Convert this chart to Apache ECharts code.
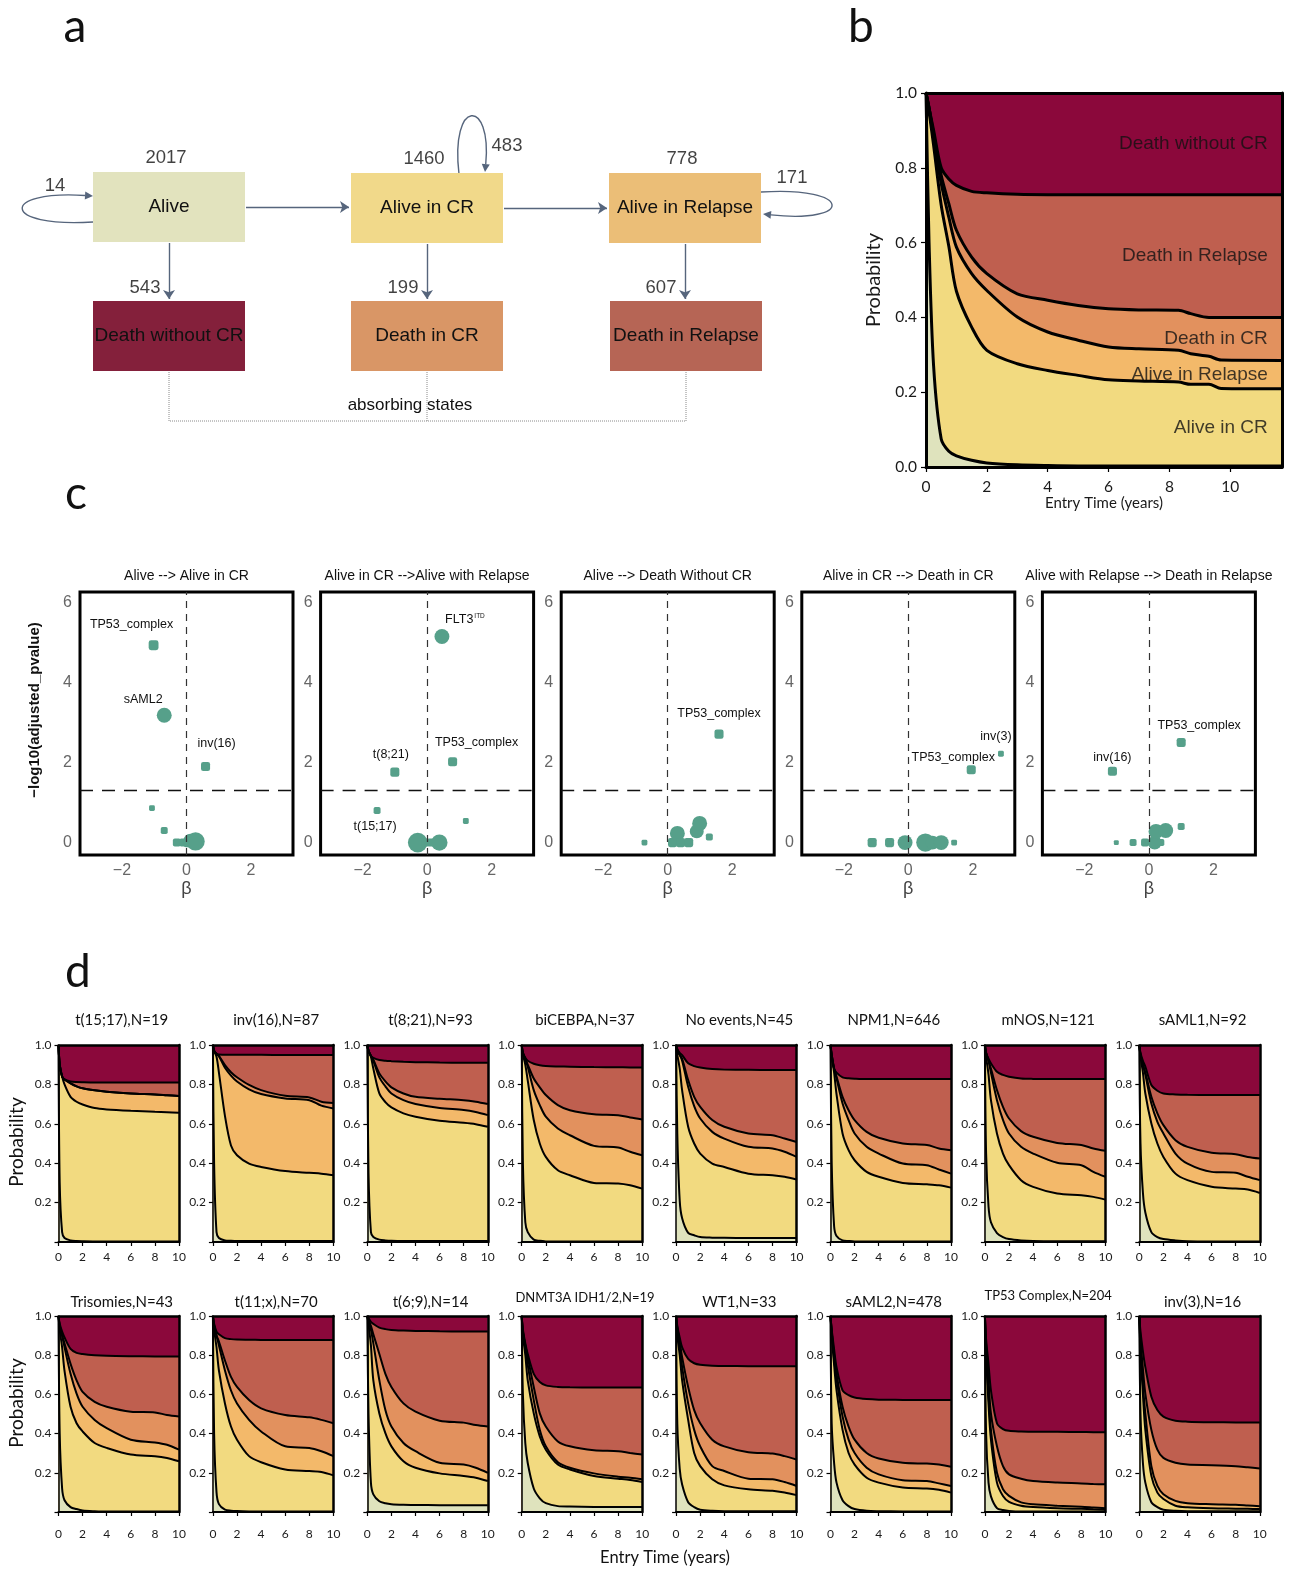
<!DOCTYPE html>
<html>
<head>
<meta charset="utf-8">
<title>Multistate model of AML outcomes</title>
<script src="https://cdn.jsdelivr.net/npm/echarts@6.0.0/dist/echarts.min.js"></script>
<style>
  html, body { margin: 0; padding: 0; background: #fff; }
  #chart { width: 1302px; height: 1572px; }
</style>
</head>
<body>
<div id="chart"></div>
<script>
// ---------------- data ----------------
// panel a: states and transition counts
const states = ['Alive', 'Alive in CR', 'Alive in Relapse', 'Death without CR', 'Death in CR', 'Death in Relapse'];
const stateN = [2017, 1460, 778];
const transitions = [
  ['Alive', 'Alive in CR', null],
  ['Alive in CR', 'Alive in Relapse', null],
  ['Alive', 'Death without CR', 543],
  ['Alive in CR', 'Death in CR', 199],
  ['Alive in Relapse', 'Death in Relapse', 607]
];
const selfLoops = [['Alive', 14], ['Alive in CR', 483], ['Alive in Relapse', 171]];

// panel b: cumulative state probabilities, whole cohort
const tB = [0, 0.1, 0.25, 0.5, 0.75, 1, 1.5, 2, 3, 4, 5, 6, 7, 8.3, 8.7, 9.3, 9.7, 11.7];
const bCumAlive    = [1, .60, .27, .075, .042, .03, .018, .011, .006, .004, .003, .003, .003, .003, .003, .003, .003, .003];
const bCumCR       = [1, .95, .86, .70, .59, .47, .374, .312, .276, .258, .245, .233, .23, .227, .221, .221, .21, .209];
const bCumRelapse  = [1, .96, .88, .758, .668, .588, .517, .472, .401, .361, .339, .321, .316, .312, .303, .296, .286, .285];
const bCumDeathCR  = [1, .96, .89, .78, .704, .633, .561, .517, .463, .446, .432, .423, .42, .419, .41, .40, .40, .40];
const bCumDeathRel = [1, .96, .90, .80, .77, .753, .737, .733, .729, .728, .728, .728, .728, .728, .728, .728, .728, .728];
const bLayerNames = ['Death without CR', 'Death in Relapse', 'Death in CR', 'Alive in Relapse', 'Alive in CR'];

// panel c: [beta, -log10(adj p), n, shape, label]
const cTitles = ['Alive --> Alive in CR', 'Alive in CR -->Alive with Relapse', 'Alive --> Death Without CR',
  'Alive in CR --> Death in CR', 'Alive with Relapse --> Death in Relapse'];
const cAliveToCR = [
  [-1.02, 4.93, 20, 's', 'TP53_complex'], [-0.69, 3.18, 46, 'c', 'sAML2'], [0.59, 1.9, 17, 's', 'inv(16)'],
  [-1.07, 0.86, 7, 's', ''], [-0.69, 0.3, 10, 's', ''], [-0.3, 0, 13, 's', ''], [-0.1, 0, 13, 's', ''],
  [0.05, 0, 17, 's', ''], [0.12, 0.05, 40, 'c', ''], [0.28, 0.03, 70, 'c', '']
];
const cCRToRelapse = [
  [0.46, 5.15, 46, 'c', 'FLT3'], [0.79, 2.02, 17, 's', 'TP53_complex'], [-1.0, 1.76, 17, 's', 't(8;21)'],
  [-1.55, 0.8, 10, 's', 't(15;17)'], [1.2, 0.54, 7, 's', ''], [-0.29, 0, 80, 'c', ''], [-0.05, 0, 13, 's', ''],
  [0.12, 0, 13, 's', ''], [0.38, 0, 55, 'c', '']
];
const cAliveToDeath = [
  [1.59, 2.71, 17, 's', 'TP53_complex'], [-0.72, 0, 7, 's', ''], [0.15, 0, 17, 's', ''], [0.3, 0.23, 46, 'c', ''],
  [0.4, 0, 17, 's', ''], [0.65, 0, 17, 's', ''], [0.9, 0.28, 40, 'c', ''], [0.99, 0.48, 46, 'c', ''], [1.29, 0.14, 10, 's', '']
];
const cCRToDeath = [
  [2.87, 2.22, 7, 's', 'inv(3)'], [1.95, 1.82, 17, 's', 'TP53_complex'], [-1.12, 0, 17, 's', ''], [-0.58, 0, 17, 's', ''],
  [-0.1, 0, 46, 'c', ''], [0.53, 0, 70, 'c', ''], [0.75, 0, 40, 'c', ''], [1.02, 0, 46, 'c', ''], [1.42, 0, 7, 's', '']
];
const cRelapseToDeath = [
  [1.0, 2.5, 17, 's', 'TP53_complex'], [-1.13, 1.78, 17, 's', 'inv(16)'], [-1.01, 0, 5, 's', ''], [-0.49, 0, 10, 's', ''],
  [-0.12, 0, 13, 's', ''], [0.18, 0, 40, 'c', ''], [0.22, 0.28, 46, 'c', ''], [0.52, 0.3, 46, 'c', ''],
  [0.37, 0, 10, 's', ''], [1.0, 0.4, 10, 's', '']
];
const cPanels = [cAliveToCR, cCRToRelapse, cAliveToDeath, cCRToDeath, cRelapseToDeath];
const sigLevel = -Math.log10(0.05);

// panel d: cumulative state probabilities per genomic group
const tD = [0, 0.1, 0.3, 0.5, 1, 1.5, 2, 3, 4, 6, 8, 9, 10];
const dGroups = ['t(15;17)', 'inv(16)', 't(8;21)', 'biCEBPA', 'No events', 'NPM1', 'mNOS', 'sAML1',
  'Trisomies', 't(11;x)', 't(6;9)', 'DNMT3A IDH1/2', 'WT1', 'sAML2', 'TP53 Complex', 'inv(3)'];
const dN = [19, 87, 93, 37, 45, 646, 121, 92, 43, 70, 14, 19, 33, 478, 204, 16];
const dCumAlive = [
  [1, .30, .05, .02, .008, .005, .004, .003, .003, .003, .003, .003, .003],
  [1, .40, .05, .02, .008, .006, .005, .005, .005, .005, .005, .005, .005],
  [1, .35, .05, .025, .012, .008, .006, .005, .005, .005, .005, .005, .005],
  [1, .40, .10, .05, .012, .006, .003, .002, .002, .002, .002, .002, .002],
  [1, .55, .21, .12, .046, .034, .025, .022, .021, .02, .02, .02, .02],
  [1, .40, .08, .03, .008, .005, .003, .003, .003, .003, .003, .003, .003],
  [1, .45, .18, .10, .045, .025, .015, .008, .005, .004, .004, .004, .004],
  [1, .50, .25, .15, .05, .025, .015, .008, .004, .003, .003, .003, .003],
  [1, .40, .12, .06, .025, .015, .008, .004, .002, .002, .002, .002, .002],
  [1, .40, .10, .04, .012, .007, .005, .003, .002, .002, .002, .002, .002],
  [1, .50, .15, .09, .055, .045, .04, .037, .036, .035, .034, .034, .034],
  [1, .60, .35, .25, .12, .07, .045, .03, .028, .026, .025, .025, .025],
  [1, .45, .22, .14, .05, .025, .012, .006, .004, .004, .004, .004, .004],
  [1, .45, .25, .15, .06, .03, .015, .006, .004, .003, .003, .003, .003],
  [1, .40, .15, .08, .02, .01, .005, .002, .002, .002, .002, .002, .002],
  [1, .50, .25, .15, .05, .025, .012, .006, .004, .004, .004, .004, .004]
];
const dCumCR = [
  [1, .90, .84, .80, .737, .712, .698, .68, .673, .666, .661, .659, .656],
  [1, .97, .94, .86, .64, .49, .44, .398, .381, .36, .351, .347, .339],
  [1, .97, .94, .88, .754, .71, .683, .653, .636, .615, .605, .598, .585],
  [1, .95, .90, .82, .619, .50, .432, .364, .339, .30, .297, .288, .271],
  [1, .95, .88, .77, .585, .50, .449, .398, .381, .347, .339, .331, .317],
  [1, .94, .86, .75, .551, .466, .415, .356, .331, .30, .293, .288, .276],
  [1, .94, .85, .72, .551, .449, .39, .314, .28, .246, .237, .229, .215],
  [1, .94, .86, .754, .602, .50, .432, .347, .314, .28, .271, .266, .249],
  [1, .93, .84, .72, .537, .453, .411, .352, .327, .293, .285, .276, .259],
  [1, .93, .84, .722, .554, .436, .369, .285, .254, .217, .209, .204, .187],
  [1, .96, .85, .672, .503, .402, .335, .259, .226, .197, .184, .175, .158],
  [1, .90, .80, .672, .503, .386, .318, .242, .217, .184, .17, .163, .153],
  [1, .90, .80, .672, .47, .301, .234, .167, .136, .116, .108, .099, .086],
  [1, .90, .75, .621, .419, .301, .242, .175, .15, .125, .12, .113, .099],
  [1, .80, .55, .369, .15, .082, .052, .032, .025, .019, .016, .014, .012],
  [1, .82, .60, .419, .184, .099, .066, .032, .024, .019, .017, .016, .015]
];
const dCumRelapse = [
  [1, .90, .84, .825, .805, .79, .78, .77, .763, .754, .749, .745, .741],
  [1, .97, .955, .943, .885, .845, .815, .775, .751, .729, .72, .692, .678],
  [1, .97, .945, .92, .836, .79, .754, .72, .70, .68, .67, .66, .644],
  [1, .96, .925, .89, .771, .695, .636, .576, .542, .488, .48, .458, .44],
  [1, .97, .95, .92, .788, .69, .627, .559, .525, .483, .475, .458, .432],
  [1, .95, .88, .83, .703, .619, .551, .483, .449, .398, .39, .368, .347],
  [1, .96, .92, .86, .72, .62, .551, .483, .449, .402, .39, .356, .331],
  [1, .95, .90, .85, .703, .61, .551, .449, .398, .356, .351, .331, .314],
  [1, .95, .90, .84, .705, .604, .537, .47, .428, .369, .355, .343, .318],
  [1, .95, .90, .85, .722, .62, .554, .47, .411, .335, .327, .31, .285],
  [1, .97, .93, .86, .672, .52, .436, .352, .31, .251, .242, .226, .20],
  [1, .92, .84, .75, .571, .419, .335, .254, .226, .197, .18, .175, .167],
  [1, .93, .85, .74, .554, .419, .335, .234, .209, .17, .167, .153, .133],
  [1, .92, .78, .68, .487, .369, .301, .226, .192, .162, .158, .146, .133],
  [1, .82, .60, .419, .20, .116, .082, .049, .039, .032, .027, .023, .019],
  [1, .85, .65, .503, .234, .133, .091, .057, .045, .04, .037, .033, .029]
];
const dCumDeathCR = [
  [1, .90, .84, .825, .805, .79, .78, .77, .763, .754, .749, .745, .741],
  [1, .97, .955, .945, .898, .862, .836, .797, .771, .742, .734, .712, .705],
  [1, .97, .945, .925, .856, .815, .785, .754, .737, .727, .72, .712, .70],
  [1, .96, .93, .90, .83, .785, .746, .695, .669, .649, .644, .632, .622],
  [1, .97, .95, .93, .822, .737, .686, .619, .585, .551, .542, .525, .508],
  [1, .95, .88, .84, .737, .669, .619, .559, .529, .50, .492, .475, .466],
  [1, .96, .92, .88, .771, .686, .627, .563, .534, .503, .492, .475, .463],
  [1, .95, .90, .86, .737, .653, .593, .517, .483, .453, .446, .432, .424],
  [1, .95, .90, .86, .756, .672, .613, .562, .537, .512, .508, .495, .487],
  [1, .95, .90, .87, .773, .689, .638, .571, .529, .495, .483, .47, .453],
  [1, .98, .95, .907, .806, .705, .638, .554, .512, .466, .456, .444, .436],
  [1, .92, .85, .79, .638, .503, .436, .36, .335, .315, .31, .301, .293],
  [1, .94, .87, .79, .638, .52, .453, .369, .335, .305, .298, .285, .268],
  [1, .92, .80, .705, .537, .436, .369, .301, .273, .251, .247, .242, .231],
  [1, .85, .672, .503, .335, .234, .192, .17, .158, .15, .146, .143, .141],
  [1, .88, .73, .604, .419, .318, .276, .251, .242, .239, .234, .228, .222]
];
const dCumDeathRel = [
  [1, .90, .84, .825, .815, .812, .811, .81, .81, .81, .81, .81, .81],
  [1, .97, .955, .952, .95, .95, .95, .95, .95, .949, .949, .949, .949],
  [1, .97, .945, .935, .924, .92, .918, .915, .913, .911, .91, .91, .91],
  [1, .96, .935, .92, .905, .897, .893, .891, .89, .888, .887, .886, .886],
  [1, .98, .96, .949, .907, .893, .886, .878, .875, .874, .873, .873, .873],
  [1, .95, .88, .86, .836, .831, .829, .827, .827, .827, .827, .827, .827],
  [1, .96, .93, .907, .864, .848, .839, .83, .828, .827, .827, .827, .827],
  [1, .96, .92, .89, .797, .768, .754, .749, .747, .746, .746, .746, .746],
  [1, .96, .92, .89, .832, .812, .806, .80, .797, .795, .794, .793, .793],
  [1, .96, .92, .907, .887, .882, .88, .879, .878, .877, .877, .877, .877],
  [1, .99, .97, .96, .941, .933, .929, .926, .924, .922, .921, .921, .921],
  [1, .93, .86, .806, .705, .663, .646, .638, .636, .635, .635, .635, .635],
  [1, .95, .89, .84, .781, .759, .751, .746, .745, .744, .744, .744, .744],
  [1, .93, .83, .739, .621, .596, .584, .576, .573, .572, .571, .571, .571],
  [1, .88, .756, .621, .453, .423, .414, .411, .41, .409, .408, .407, .407],
  [1, .92, .82, .739, .588, .52, .487, .466, .461, .458, .457, .456, .456]
];

// ---------------- layout & style ----------------
const FONT = "'Liberation Sans', Arial, sans-serif";
const FONT2 = "Lato, 'Noto Sans', sans-serif";
const COL = {
  alive: '#dfe3bd', aliveCR: '#f2da80', aliveRel: '#f3b96a',
  deathCR: '#e2915e', deathRel: '#bf5f4f', deathNoCR: '#8b083b'
};
const boxColors = ['#e2e3be', '#f1d98a', '#ebbe77', '#84203b', '#d99666', '#b66555'];
const boxLayout = {
  'Alive': [169, 207], 'Alive in CR': [427, 208], 'Alive in Relapse': [685, 208],
  'Death without CR': [169, 336], 'Death in CR': [427, 336], 'Death in Relapse': [686, 336]
};
const boxW = 152, boxH = 70, bracketY = 421;
const loopGeom = {
  'Alive': { path: [93, 222, 0, 228, 0, 190, 93, 196], label: [55, 186] },
  'Alive in CR': { path: [459, 174, 450, 98, 492, 98, 485, 172], label: [507, 146] },
  'Alive in Relapse': { path: [761, 192, 854, 186, 854, 224, 763, 214], label: [792, 178] }
};
const ARROW = '#56657c';
const cLeft = [80, 320.6, 561.2, 801.8, 1042.4], cTop = 592, cW = 213, cH = 263;
const cLabelOffset = {
  '0:TP53_complex': [-22, -21], '0:sAML2': [-21, -16], '0:inv(16)': [11, -23],
  '1:FLT3': [23, -17], '1:TP53_complex': [24, -19], '1:t(8;21)': [-4, -18], '1:t(15;17)': [-2, 16],
  '2:TP53_complex': [0, -21], '3:inv(3)': [-5, -17], '3:TP53_complex': [-18, -12],
  '4:TP53_complex': [18, -17], '4:inv(16)': [0, -14]
};
const dLeft0 = 58.5, dStep = 154.4, dW = 120.5;
const dRows = [{ top: 1045, h: 197, xm: 9, title: 1020 }, { top: 1316, h: 196, xm: 16, title: 1302 }];

const grids = [], xAxes = [], yAxes = [], series = [], graphics = [];
const addGrid = g => (grids.push(g), grids.length - 1);
const addX = a => (xAxes.push(a), xAxes.length - 1);
const addY = a => (yAxes.push(a), yAxes.length - 1);

function text(x, y, str, size, opts) {
  graphics.push(Object.assign({
    type: 'text', x: x, y: y, silent: true,
    style: Object.assign({ text: str, fontSize: size, fontFamily: FONT, fill: '#111', align: 'center', verticalAlign: 'middle' },
      (opts && opts.style) || {})
  }, (opts && opts.el) || {}));
}

// ---------------- panel a ----------------
const gA = addGrid({ left: 0, top: 0, width: 1302, height: 1572 });
const xA = addX({ gridIndex: gA, type: 'value', min: 0, max: 1302, show: false });
const yA = addY({ gridIndex: gA, type: 'value', min: 0, max: 1572, inverse: true, show: false });

function arrowCoords(from, to) {
  const a = boxLayout[from], b = boxLayout[to];
  if (Math.abs(a[1] - b[1]) < 5) return [[a[0] + boxW / 2 + 1, a[1]], [b[0] - boxW / 2 - 2, a[1]]];
  return [[a[0], a[1] + boxH / 2 + 1], [a[0], b[1] - boxH / 2 - 2]];
}
series.push({
  type: 'lines', coordinateSystem: 'cartesian2d', xAxisIndex: xA, yAxisIndex: yA, silent: true,
  symbol: ['none', 'arrow'], symbolSize: 9,
  lineStyle: { color: ARROW, width: 1.4, opacity: 1 },
  data: transitions.map(tr => ({ coords: arrowCoords(tr[0], tr[1]) }))
});
series.push({
  type: 'lines', coordinateSystem: 'cartesian2d', xAxisIndex: xA, yAxisIndex: yA, silent: true, polyline: true,
  symbol: 'none', lineStyle: { color: '#8a8a8a', width: 1, type: 'dotted', opacity: 1 },
  data: [
    { coords: [[boxLayout['Death without CR'][0], 372], [boxLayout['Death without CR'][0], bracketY],
      [boxLayout['Death in Relapse'][0], bracketY], [boxLayout['Death in Relapse'][0], 372]] },
    { coords: [[boxLayout['Death in CR'][0], 372], [boxLayout['Death in CR'][0], bracketY]] }
  ]
});
series.push({
  type: 'custom', coordinateSystem: 'cartesian2d', xAxisIndex: xA, yAxisIndex: yA, silent: true,
  data: selfLoops.map(l => loopGeom[l[0]].path),
  renderItem: (params, api) => {
    const P = k => api.coord([api.value(k), api.value(k + 1)]);
    const s = P(0), c1 = P(2), c2 = P(4), e = P(6);
    const ang = Math.atan2(e[1] - c2[1], e[0] - c2[0]);
    const L = 8, W = 4;
    const bx = e[0] - L * Math.cos(ang), by = e[1] - L * Math.sin(ang);
    const px = -Math.sin(ang) * W, py = Math.cos(ang) * W;
    return {
      type: 'group', children: [
        { type: 'bezierCurve', shape: { x1: s[0], y1: s[1], cpx1: c1[0], cpy1: c1[1], cpx2: c2[0], cpy2: c2[1], x2: bx, y2: by },
          style: { stroke: ARROW, lineWidth: 1.4, fill: 'none' } },
        { type: 'polygon', shape: { points: [[e[0], e[1]], [bx + px, by + py], [bx - px, by - py]] }, style: { fill: ARROW } }
      ]
    };
  }
});
series.push({
  type: 'scatter', xAxisIndex: xA, yAxisIndex: yA, silent: true, z: 3,
  symbol: 'rect', symbolSize: [boxW, boxH],
  data: states.map((s, i) => ({ name: s, value: boxLayout[s], itemStyle: { color: boxColors[i], opacity: 1 } })),
  label: { show: true, position: 'inside', formatter: '{b}', fontSize: 19, color: '#111', fontFamily: FONT }
});
const countLabels = [];
states.slice(0, 3).forEach((s, i) => countLabels.push({
  name: String(stateN[i]), value: [boxLayout[s][0] - 3, boxLayout[s][1] - boxH / 2 - 14] }));
transitions.filter(tr => tr[2] != null).forEach(tr => countLabels.push({
  name: String(tr[2]), value: [boxLayout[tr[0]][0] - 24, boxLayout[tr[1]][1] - boxH / 2 - 13] }));
selfLoops.forEach(l => countLabels.push({ name: String(l[1]), value: loopGeom[l[0]].label }));
series.push({
  type: 'scatter', xAxisIndex: xA, yAxisIndex: yA, silent: true, symbolSize: 1,
  itemStyle: { color: 'rgba(0,0,0,0)' }, data: countLabels,
  label: { show: true, position: 'inside', formatter: '{b}', fontSize: 18.5, color: '#111', fontFamily: FONT }
});
text(410, 405, 'absorbing states', 17);

// ---------------- stacked probability layers ----------------
function layers(t, cum, xi, yi, lw) {
  const order = [[cum[4], COL.deathRel], [cum[3], COL.deathCR], [cum[2], COL.aliveRel], [cum[1], COL.aliveCR], [cum[0], COL.alive]];
  return order.map(o => ({
    type: 'line', xAxisIndex: xi, yAxisIndex: yi, silent: true, z: 2,
    data: t.map((x, k) => [x, o[0][k]]), symbol: 'none', smooth: 0.3,
    lineStyle: { color: '#000', width: lw }, areaStyle: { color: o[1], opacity: 1 }
  }));
}
function probAxes(gi, xmax, o) {
  const xTicks = [0, 2, 4, 6, 8, 10];
  const xb = addX({
    gridIndex: gi, type: 'value', min: 0, max: xmax, z: 10,
    axisLine: { onZero: false, lineStyle: { color: '#000', width: o.bottomW } },
    axisTick: { length: o.tick, customValues: xTicks, lineStyle: { color: '#000', width: 1.2 } },
    axisLabel: { customValues: xTicks, fontSize: o.fs, color: '#1a1a1a', fontFamily: FONT2, margin: o.xm },
    splitLine: { show: false },
    name: o.xName || '', nameLocation: 'middle', nameGap: o.xGap || 20,
    nameTextStyle: { fontSize: 15, fontFamily: FONT2, color: '#1a1a1a' }
  });
  addX({ gridIndex: gi, type: 'value', position: 'top', min: 0, max: xmax, z: 10,
    axisLine: { onZero: false, lineStyle: { color: '#000', width: o.frameW } },
    axisTick: { show: false }, axisLabel: { show: false }, splitLine: { show: false } });
  const yl = addY({
    gridIndex: gi, type: 'value', min: 0, max: 1, interval: 0.2, z: 10,
    axisLine: { onZero: false, lineStyle: { color: '#000', width: o.leftW } },
    axisTick: { length: o.tick, lineStyle: { color: '#000', width: 1.2 } },
    axisLabel: { formatter: o.yFmt, fontSize: o.fs, color: '#1a1a1a', fontFamily: FONT2, margin: o.ym },
    splitLine: { show: false },
    name: o.yName || '', nameLocation: 'middle', nameGap: o.yGap || 20,
    nameTextStyle: { fontSize: 20, fontFamily: FONT2, color: '#1a1a1a' }
  });
  addY({ gridIndex: gi, type: 'value', position: 'right', min: 0, max: 1, z: 10,
    axisLine: { onZero: false, lineStyle: { color: '#000', width: o.frameW } },
    axisTick: { show: false }, axisLabel: { show: false }, splitLine: { show: false } });
  return [xb, yl];
}

// ---------------- panel b ----------------
const gB = addGrid({ left: 926, top: 93, width: 356, height: 374, show: true, backgroundColor: COL.deathNoCR, borderWidth: 0 });
const [xB, yB] = probAxes(gB, 11.7, {
  bottomW: 3, frameW: 3, leftW: 3, tick: 5, fs: 15.5, xm: 12, ym: 9,
  yFmt: v => v.toFixed(1), xName: 'Entry Time (years)', xGap: 29, yName: 'Probability', yGap: 42
});
series.push(...layers(tB, [bCumAlive, bCumCR, bCumRelapse, bCumDeathCR, bCumDeathRel], xB, yB, 3));
const bLast = tB.length - 1;
const bBounds = [1, bCumDeathRel[bLast], bCumDeathCR[bLast], bCumRelapse[bLast], bCumCR[bLast], 0];
series.push({
  type: 'scatter', xAxisIndex: xB, yAxisIndex: yB, silent: true, z: 12, symbolSize: 1,
  itemStyle: { color: 'rgba(0,0,0,0)' },
  data: bLayerNames.map((n, i) => ({ name: n, value: [11.25, (bBounds[i] + bBounds[i + 1]) / 2] })),
  label: { show: true, position: 'left', distance: 0, formatter: '{b}', fontSize: 19, color: '#111', fontFamily: FONT }
});

// ---------------- panel c ----------------
const ptSize = n => 2.2 * Math.sqrt(n);
cPanels.forEach((pts, p) => {
  const gi = addGrid({ left: cLeft[p], top: cTop, width: cW, height: cH, show: true, borderColor: '#000', borderWidth: 3 });
  const xi = addX({
    gridIndex: gi, type: 'value', min: -3.3, max: 3.3,
    axisLine: { show: false, onZero: false }, axisTick: { show: false }, splitLine: { show: false },
    axisLabel: { customValues: [-2, 0, 2], formatter: v => String(v).replace('-', '\u2212'), color: '#666', fontSize: 16, margin: 8 },
    name: 'β', nameLocation: 'middle', nameGap: 24, nameTextStyle: { fontSize: 18, color: '#444' }
  });
  const yi = addY({
    gridIndex: gi, type: 'value', min: -0.31, max: 6.26,
    axisLine: { show: false, onZero: false }, axisTick: { show: false }, splitLine: { show: false },
    axisLabel: { customValues: [0, 2, 4, 6], color: '#666', fontSize: 16, margin: 8 }
  });
  series.push({
    type: 'scatter', xAxisIndex: xi, yAxisIndex: yi, silent: true, z: 3,
    itemStyle: { color: '#56a08a', opacity: 1 },
    data: pts.map(d => {
      const off = cLabelOffset[p + ':' + d[4]];
      return {
        name: d[4], value: [d[0], d[1]],
        symbol: d[3] === 'c' ? 'circle' : 'roundRect', symbolSize: ptSize(d[2]),
        label: off ? { show: true, offset: off } : { show: false }
      };
    }),
    label: {
      show: false, position: 'inside', fontSize: 12.5, color: '#111', fontFamily: FONT,
      formatter: prm => prm.name === 'FLT3' ? '{a|FLT3}{s|ITD}' : prm.name,
      rich: { a: { fontSize: 12.5, color: '#111', fontFamily: FONT }, s: { fontSize: 6.5, color: '#111', padding: [0, 0, 7, 1], fontFamily: FONT } }
    },
    markLine: {
      silent: true, symbol: ['none', 'none'], label: { show: false }, animation: false,
      data: [
        { xAxis: 0, lineStyle: { type: [7, 6], color: '#333', width: 1.2 } },
        { yAxis: sigLevel, lineStyle: { type: [13, 9], color: '#111', width: 1.3 } }
      ]
    }
  });
  text(cLeft[p] + cW / 2, 576, cTitles[p], 14);
});
text(35, 710, '\u2212log10(adjusted_pvalue)', 15, { style: { fontWeight: 'bold' }, el: { rotation: Math.PI / 2 } });

// ---------------- panel d ----------------
dGroups.forEach((g, i) => {
  const row = dRows[i < 8 ? 0 : 1], col = i % 8;
  const left = dLeft0 + col * dStep;
  const gi = addGrid({ left: left, top: row.top, width: dW, height: row.h, show: true, backgroundColor: COL.deathNoCR, borderWidth: 0 });
  const [xi, yi] = probAxes(gi, 10, {
    bottomW: 2, frameW: 2.5, leftW: 1.5, tick: 4, fs: 12, xm: row.xm, ym: 7,
    yFmt: v => (v === 0 ? '' : v.toFixed(1))
  });
  series.push(...layers(tD, [dCumAlive[i], dCumCR[i], dCumRelapse[i], dCumDeathCR[i], dCumDeathRel[i]], xi, yi, 2));
  const small = g.length > 10;
  const ty = row.title + (g === 'TP53 Complex' ? -6 : small ? -4 : 0);
  text(left + dW / 2 + 3, ty, g + ',N=' + dN[i], small ? 13 : 15, { style: { fontFamily: FONT2 } });
});
text(17, 1142, 'Probability', 19, { style: { fontFamily: FONT2 }, el: { rotation: Math.PI / 2 } });
text(17, 1403, 'Probability', 19, { style: { fontFamily: FONT2 }, el: { rotation: Math.PI / 2 } });
text(665, 1558, 'Entry Time (years)', 16.5, { style: { fontFamily: FONT2 } });

// panel letters
[['a', 75, 27], ['b', 861, 27], ['c', 76, 494], ['d', 78, 972]].forEach(l =>
  text(l[1], l[2], l[0], 46, { style: { fontFamily: FONT2 } }));

// ---------------- chart ----------------
const chart = echarts.init(document.getElementById('chart'), null, { renderer: 'canvas' });
chart.setOption({
  animation: false,
  backgroundColor: '#ffffff',
  textStyle: { fontFamily: FONT },
  grid: grids, xAxis: xAxes, yAxis: yAxes,
  series: series,
  graphic: graphics
});
window.addEventListener('resize', () => chart.resize());
</script>
</body>
</html>
